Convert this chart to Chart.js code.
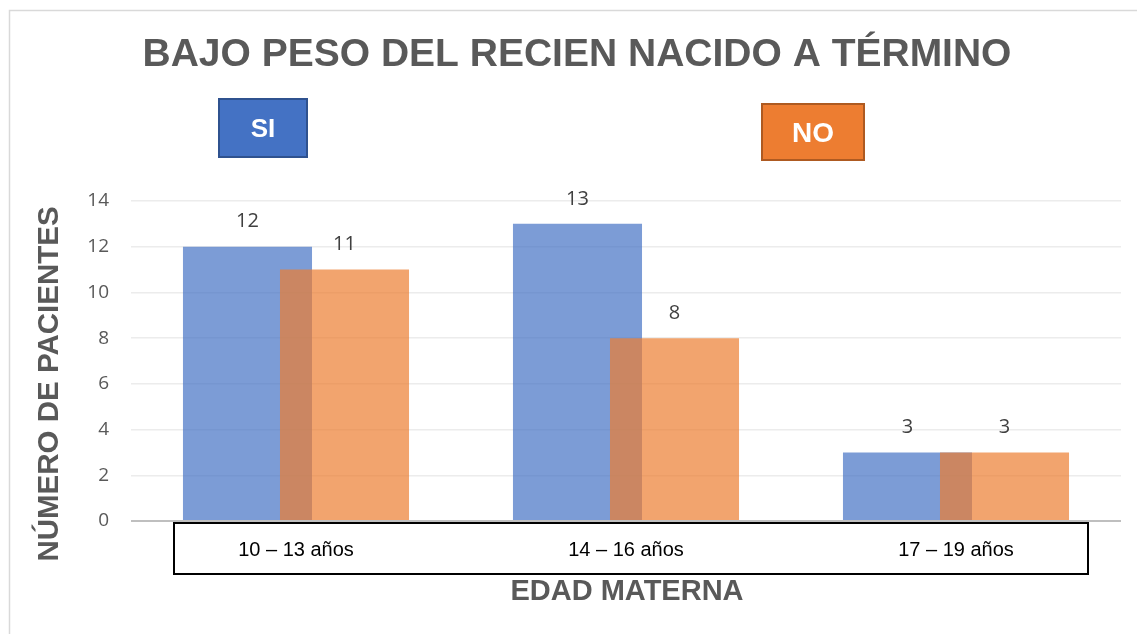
<!DOCTYPE html>
<html>
<head>
<meta charset="utf-8">
<script src="https://cdn.jsdelivr.net/npm/chart.js@4/dist/chart.umd.min.js"></script>
<style>
  html, body { margin: 0; padding: 0; background: #fff; }
  #wrap { width: 1137px; height: 634px; position: relative; }
</style>
</head>
<body>
<div id="wrap"><canvas id="chart"></canvas></div>
<script>
// Data
const title = 'BAJO PESO DEL RECIEN NACIDO A TÉRMINO'
const categories = ['10 – 13 años', '14 – 16 años', '17 – 19 años']
const siValues = [12, 13, 3]
const noValues = [11, 8, 3]
const yTicks = [0, 2, 4, 6, 8, 10, 12, 14]
const yTitle = 'NÚMERO DE PACIENTES'
const xTitle = 'EDAD MATERNA'

const grey = '#595959'
const ctx = document.querySelector('#chart').getContext('2d')

// Draw datasets in index order so NO sits on top of SI
const drawOrder = {
  id: 'drawOrder',
  beforeDatasetsDraw (chart) {
    chart.data.datasets.forEach((ds, i) => {
      const meta = chart.getDatasetMeta(i)
      if (meta.visible !== false) meta.controller.draw()
    })
    return false
  }
}

// Frame, title, legend boxes, axis titles, label box
const decorations = {
  id: 'decorations',
  beforeDraw (chart) {
    const c = chart.ctx
    c.save()
    c.fillStyle = '#fff'
    c.fillRect(0, 0, chart.width, chart.height)
    c.strokeStyle = '#d9d9d9'
    c.lineWidth = 1.5
    c.strokeRect(9.5, 10.5, chart.width + 10, chart.height + 10)
    c.restore()
  },
  afterDraw (chart) {
    const c = chart.ctx
    const sets = chart.data.datasets
    c.save()
    // title
    c.fillStyle = grey
    c.textAlign = 'center'
    c.textBaseline = 'middle'
    c.font = 'bold 39px "Liberation Sans", Arial, sans-serif'
    c.fillText(title, 577, 55)

    // legend boxes
    const boxes = [
      { x: 219, y: 99, w: 88, h: 58, fill: '#4472C4', stroke: '#2F528F', size: 26 },
      { x: 762, y: 104, w: 102, h: 56, fill: '#ED7D31', stroke: '#AE5A21', size: 28 }
    ]
    boxes.forEach((b, i) => {
      c.fillStyle = b.fill
      c.fillRect(b.x, b.y, b.w, b.h)
      c.strokeStyle = b.stroke
      c.lineWidth = 2
      c.strokeRect(b.x, b.y, b.w, b.h)
      c.fillStyle = '#fff'
      c.font = `bold ${b.size}px "Liberation Sans", Arial, sans-serif`
      c.fillText(sets[i].label, b.x + b.w / 2, b.y + b.h / 2 + 2)
    })

    // y axis title
    c.fillStyle = grey
    c.font = 'bold 29.5px "Liberation Sans", Arial, sans-serif'
    c.translate(50, 384)
    c.rotate(-Math.PI / 2)
    c.fillText(yTitle, 0, 0)
    c.setTransform(1, 0, 0, 1, 0, 0)

    // x axis title
    c.font = 'bold 29px "Liberation Sans", Arial, sans-serif'
    c.fillText(xTitle, 627, 592)

    // box round the category labels
    c.strokeStyle = '#000'
    c.lineWidth = 2
    c.strokeRect(174, 523, 914, 51)

    // value labels
    c.fillStyle = '#404040'
    c.font = '20px "Open Sans", sans-serif'
    c.textBaseline = 'middle'
    sets.forEach((ds, i) => {
      chart.getDatasetMeta(i).data.forEach((bar, j) => {
        c.fillText(ds.data[j], bar.x, bar.y - 25)
      })
    })
    c.restore()
  }
}

new Chart(ctx, {
  type: 'bar',
  data: {
    labels: categories,
    datasets: [
      {
        label: 'SI',
        data: siValues,
        backgroundColor: 'rgba(68, 114, 196, 0.7)',
        categoryPercentage: 0.588,
        barPercentage: 1.33
      },
      {
        label: 'NO',
        data: noValues,
        backgroundColor: 'rgba(237, 125, 49, 0.7)',
        categoryPercentage: 0.588,
        barPercentage: 1.33
      }
    ]
  },
  options: {
    responsive: true,
    maintainAspectRatio: false,
    animation: false,
    layout: { padding: { top: 201, right: 16, left: 0, bottom: 0 } },
    plugins: {
      legend: { display: false },
      title: { display: false },
      tooltip: { enabled: false }
    },
    scales: {
      x: {
        grid: { display: false, drawTicks: false },
        border: { display: false },
        ticks: {
          color: '#000',
          padding: 17,
          font: { family: '"Liberation Sans", Arial, sans-serif', size: 20 }
        },
        afterFit (scale) { scale.height = 113 }
      },
      y: {
        min: 0,
        max: 14,
        afterBuildTicks (scale) { scale.ticks = yTicks.map(v => ({ value: v })) },
        border: { display: false },
        grid: {
          drawTicks: false,
          color: c => (c.tick && c.tick.value === 0 ? '#bfbfbf' : '#ececec'),
          lineWidth: c => (c.tick && c.tick.value === 0 ? 2 : 1.5)
        },
        ticks: {
          color: grey,
          padding: 22,
          font: { family: '"Open Sans", sans-serif', size: 19 }
        },
        afterFit (scale) { scale.width = 131 }
      }
    }
  },
  plugins: [drawOrder, decorations]
})
</script>
</body>
</html>
